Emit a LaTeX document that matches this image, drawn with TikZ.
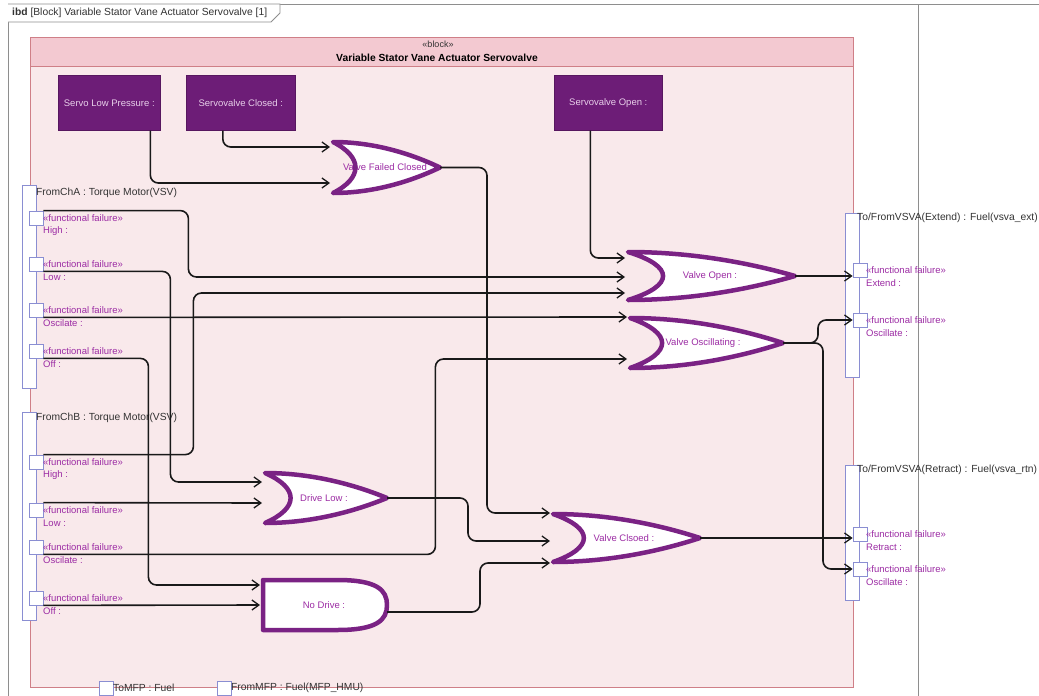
\documentclass[tikz,border=0pt]{standalone}
\usepackage{fontspec}
\setmainfont{Liberation Sans}
\usetikzlibrary{arrows.meta}

\definecolor{frameline}{HTML}{8E8E8E}
\definecolor{blockbody}{HTML}{F9E9EB}
\definecolor{blockhead}{HTML}{F3C9D1}
\definecolor{blockedge}{HTML}{CF7F87}
\definecolor{partfill}{HTML}{6D1D77}
\definecolor{parttext}{HTML}{E8CFEA}
\definecolor{gateedge}{HTML}{7A2284}
\definecolor{stereocol}{HTML}{9C2CA4}
\definecolor{portedge}{HTML}{8A8ED2}
\definecolor{labeltext}{HTML}{333333}

\tikzset{
  txt/.style={font=\fontsize{9.5}{11}\selectfont, inner sep=0pt},
  bigtxt/.style={font=\fontsize{10.3}{12}\selectfont, inner sep=0pt},
  part/.style={fill=partfill, draw=partfill!80!black, line width=0.6pt, anchor=north west,
    txt, text=parttext, minimum height=55pt},
  wire/.style={draw=black!90, line width=1.6pt, rounded corners=8pt,
    -{Straight Barb[length=7pt,width=10pt,line width=1.3pt]}},
  gateline/.style={draw=gateedge, line width=4.5pt, line join=round},
  gatetext/.style={txt, text=stereocol},
  portbar/.style={draw=portedge, fill=white, line width=0.8pt, anchor=north west,
    inner sep=0pt, minimum width=14pt},
  portsq/.style={draw=portedge, fill=white, line width=0.8pt, inner sep=0pt, minimum size=14pt},
  stereolbl/.style={txt, text=stereocol, anchor=west},
  portname/.style={txt, text=stereocol, anchor=west},
  barlabel/.style={bigtxt, text=labeltext, anchor=west},
}

% OR-style gate: name, left, top, tip x, bottom, label x, label
\newcommand{\gateor}[7]{%
  \pgfmathsetmacro{\gW}{#4-#2}%
  \pgfmathsetmacro{\gH}{#5-#3}%
  \pgfmathsetmacro{\gM}{(#3+#5)/2}%
  \def\gpath{(#2,#3) .. controls ({#2+0.4*\gW},#3) and ({#4-0.25*\gW},{#3+0.25*\gH}) .. (#4,\gM)
     .. controls ({#4-0.25*\gW},{#5-0.25*\gH}) and ({#2+0.4*\gW},#5) .. (#2,#5)
     .. controls ({#2+0.28*\gW},{#5-0.3*\gH}) and ({#2+0.28*\gW},{#3+0.3*\gH}) .. (#2,#3) -- cycle}%
  \path[fill=white] \gpath;
  \node[gatetext] (#1) at (#6,\gM) {#7};
  \draw[gateline] \gpath;
  \coordinate (#1-o) at (#4,\gM);
}

% AND-style gate: name, left, top, tip x, bottom, label x, label
\newcommand{\gateand}[7]{%
  \pgfmathsetmacro{\gW}{#4-#2}%
  \pgfmathsetmacro{\gH}{#5-#3}%
  \pgfmathsetmacro{\gM}{(#3+#5)/2}%
  \def\gpath{(#2,#3) -- ({#2+0.6*\gW},#3) .. controls ({#4-0.08*\gW},#3) and (#4,{\gM-0.3*\gH}) .. (#4,\gM)
     .. controls (#4,{\gM+0.3*\gH}) and ({#4-0.08*\gW},#5) .. ({#2+0.6*\gW},#5) -- (#2,#5) -- cycle}%
  \path[fill=white] \gpath;
  \node[gatetext] (#1) at (#6,\gM) {#7};
  \draw[gateline] \gpath;
  \coordinate (#1-o) at (#4,\gM);
}

% flow port on a left-hand port bar: name, top y, label
\newcommand{\sysportL}[3]{%
  \node[portsq] (#1) at (36,#2+7) {};
  \node[stereolbl] (#1-st) at (43,#2+7) {«functional failure»};
  \node[portname] (#1-nm) at (43,#2+20) {#3};
}
% flow port on a right-hand port bar: name, top y, label
\newcommand{\sysportR}[3]{%
  \node[portsq] (#1) at (860,#2+7) {};
  \node[stereolbl] (#1-st) at (866,#2+7) {«functional failure»};
  \node[portname] (#1-nm) at (866,#2+20) {#3};
}

\begin{document}
\begin{tikzpicture}[x=1pt,y=-1pt]
\useasboundingbox (0,0) rectangle (1039,696);
\fill[white] (0,0) rectangle (1039,696);

% diagram frame and its tab
\draw[frameline, line width=1pt] (8,696) -- (8,4) -- (1039,4);
\draw[frameline, line width=0.8pt] (918,4) -- (918,696);
\draw[frameline, fill=white, line width=0.8pt] (8,4) -- (280,4) -- (280,13) -- (271,22) -- (8,22);
\node[bigtxt, anchor=west, text=labeltext] (frametitle) at (12,13)
  {\textbf{ibd} [Block] Variable Stator Vane Actuator Servovalve [1]};

% block with its compartment header
\node[draw=blockedge, fill=blockbody, line width=0.8pt, anchor=north west,
  minimum width=823pt, minimum height=650pt, inner sep=0pt] (blk) at (30,37) {};
\node[draw=blockedge, fill=blockhead, line width=0.8pt, anchor=north west,
  minimum width=823pt, minimum height=29pt, inner sep=0pt] (blkhead) at (30,37) {};
\node[txt, font=\fontsize{9}{10}\selectfont, text=labeltext] (blkstereo) at (438,44) {«block»};
\node[txt, font=\fontsize{10.3}{12}\selectfont\bfseries] (blktitle) at (437,58)
  {Variable Stator Vane Actuator Servovalve};

% parts
\node[part, minimum width=102pt] (slp) at (58,75) {Servo Low Pressure :};
\node[part, minimum width=109pt] (svc) at (186,75) {Servovalve Closed :};
\node[part, minimum width=108pt] (svo) at (554,75) {Servovalve Open :};

% port bars
\node[portbar, minimum height=203pt] (chA) at (22,185) {};
\node[barlabel] (chA-lbl) at (36,193) {FromChA : Torque Motor(VSV)};
\node[portbar, minimum height=208pt] (chB) at (22,412) {};
\node[barlabel] (chB-lbl) at (36,418) {FromChB : Torque Motor(VSV)};
\node[portbar, minimum height=164pt] (ext) at (845,213) {};
\node[barlabel] (ext-lbl) at (857,218) {To/FromVSVA(Extend) : Fuel(vsva\_ext)};
\node[portbar, minimum height=135pt] (ret) at (845,465) {};
\node[barlabel] (ret-lbl) at (857,470) {To/FromVSVA(Retract) : Fuel(vsva\_rtn)};

% flow ports
\sysportL{aHigh}{211}{High :}
\sysportL{aLow}{257}{Low :}
\sysportL{aOsc}{303}{Oscilate :}
\sysportL{aOff}{344}{Off :}
\sysportL{bHigh}{455}{High :}
\sysportL{bLow}{503}{Low :}
\sysportL{bOsc}{540}{Oscilate :}
\sysportL{bOff}{591}{Off :}
\sysportR{eExt}{263}{Extend :}
\sysportR{eOsc}{313}{Oscillate :}
\sysportR{rRet}{527}{Retract :}
\sysportR{rOsc}{562}{Oscillate :}

\node[portsq] (tomfp) at (106,688) {};
\node[barlabel] (tomfp-lbl) at (113,688) {ToMFP : Fuel};
\node[portsq] (frommfp) at (224,688) {};
\node[barlabel] (frommfp-lbl) at (231,688) {FromMFP : Fuel(MFP\_HMU)};

% logic gates
\gateor{vfc}{333}{142}{440}{193}{385}{Valve Failed Closed}
\gateor{vo}{628}{252}{795}{300}{710}{Valve Open :}
\gateor{vosc}{630}{318}{783}{368}{703}{Valve Oscillating :}
\gateor{dl}{265}{473}{387}{523}{324}{Drive Low :}
\gateand{nd}{263}{580}{387}{630}{324}{No Drive :}
\gateor{vc}{553}{514}{700}{562}{624}{Valve Clsoed :}

% gate inputs
\coordinate (vfc-a) at (330,147);
\coordinate (vfc-b) at (330,183);
\coordinate (vo-a) at (625,258);
\coordinate (vo-b) at (625,277);
\coordinate (vo-c) at (625,293);
\coordinate (vosc-a) at (627,317);
\coordinate (vosc-b) at (627,359);
\coordinate (dl-a) at (262,482);
\coordinate (dl-b) at (262,503);
\coordinate (nd-a) at (260,585);
\coordinate (nd-b) at (260,605);
\coordinate (vc-a) at (550,513);
\coordinate (vc-b) at (550,541);
\coordinate (vc-c) at (550,563);

% connectors
\draw[wire] ([xshift=-18pt]svc.south) |- (vfc-a);
\draw[wire] ([xshift=41pt]slp.south) |- (vfc-b);
\draw[wire] ([xshift=-18pt]svo.south) |- (vo-a);
\draw[wire] (aHigh.north east) -- ++(145,0) |- (vo-b);
\draw[wire] (aLow.south east) -- ++(127,0) |- (dl-a);
\draw[wire] (aOsc.south east) -- (vosc-a);
\draw[wire] (aOff.south east) -- ++(105,0) |- (nd-a);
\draw[wire] (bHigh.north east) -- ++(150,0) |- (vo-c);
\draw[wire] (bLow.north east) -- (dl-b);
\draw[wire] (bOsc.south east) -- ++(392,0) |- (vosc-b);
\draw[wire] (bOff.south east) -- (nd-b);
\draw[wire] (vfc-o) -- ++(47,0) |- (vc-a);
\draw[wire] (dl-o) -- ++(81,0) |- (vc-b);
\draw[wire] ([yshift=-7pt]nd-o) -- ++(93,0) |- (vc-c);
\draw[wire] (vo-o) -- (vo-o -| eExt.west);
\draw[wire] (vosc-o) -- ++(35,0) |- (eOsc.west);
\draw[wire] (vosc-o) -- ++(40,0) |- (rOsc.west);
\draw[wire] (vc-o) -- (vc-o -| rRet.west);
\end{tikzpicture}
\end{document}
